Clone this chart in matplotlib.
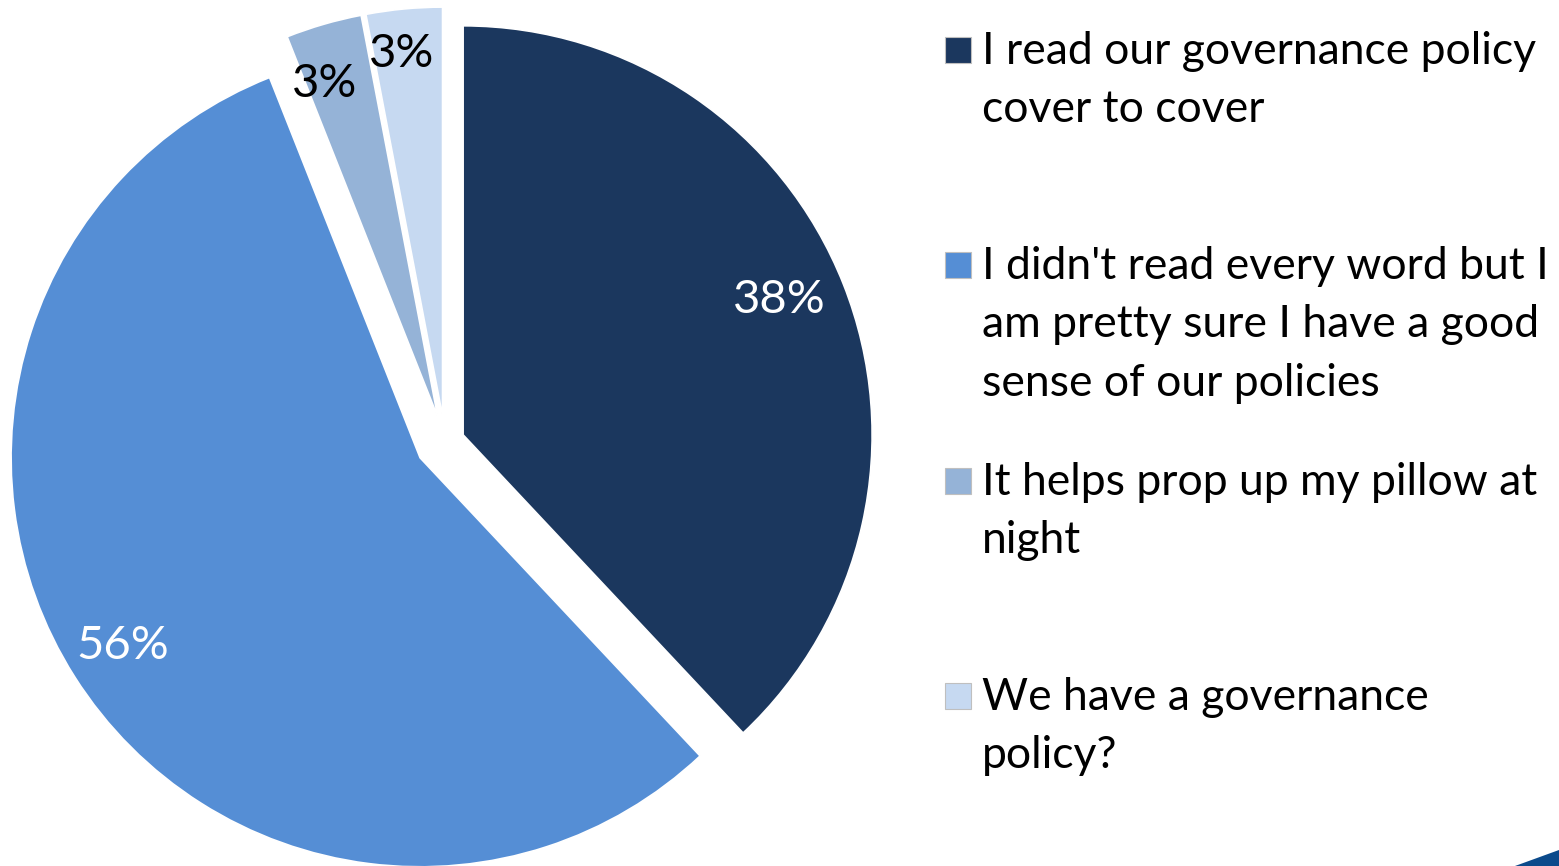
import matplotlib
matplotlib.use("Agg")
import matplotlib.pyplot as plt
from matplotlib.patches import Rectangle, Polygon
import numpy as np

# Survey responses
categories = [
    "I read our governance policy\ncover to cover",
    "I didn't read every word but I\nam pretty sure I have a good\nsense of our policies",
    "It helps prop up my pillow at\nnight",
    "We have a governance\npolicy?",
]
shares = [38, 56, 3, 3]
colors = ["#1B375E", "#558ED5", "#95B3D7", "#C6D9F1"]
label_colors = ["white", "white", "black", "black"]

W, H = 1559, 866
FONT = "Lato"

fig = plt.figure(figsize=(W / 100, H / 100), dpi=100)
ax = fig.add_axes([0, 0, 1, 1])
ax.set_xlim(0, W)
ax.set_ylim(0, H)
ax.set_aspect("equal")
ax.axis("off")

center = (445, H - 442)
radius = 409
# explode offsets are in data units (pixels here)
explode = [19.5, 29.5, 26, 26]
label_dist = [0.84, 0.86, 0.86, 0.89]
label_turn = [1.5, 0.0, 2.5, 1.0]   # degrees, nudges labels counter-clockwise

wedges, _, autotexts = ax.pie(
    shares, colors=colors, startangle=90, counterclock=False,
    explode=explode, center=center, radius=radius,
    autopct="%.0f%%", pctdistance=0.85,
    wedgeprops=dict(edgecolor="white", linewidth=1.2),
    textprops=dict(fontsize=34, family=FONT),
)
ax.set_xlim(0, W)
ax.set_ylim(0, H)

for w, t, c, d, ex, turn in zip(wedges, autotexts, label_colors, label_dist,
                                explode, label_turn):
    mid = np.deg2rad((w.theta1 + w.theta2) / 2)
    cx = center[0] + ex * np.cos(mid)
    cy = center[1] + ex * np.sin(mid)
    ang = mid + np.deg2rad(turn)
    t.set_position((cx + d * radius * np.cos(ang), cy + d * radius * np.sin(ang)))
    t.set_color(c)

# Legend drawn as swatches with wrapped text
first_line_y = [50, 265, 481, 696]
for cat, col, y in zip(categories, colors, first_line_y):
    ax.add_patch(Rectangle((945, H - y - 12.5), 26, 26, facecolor=col,
                           edgecolor="#BFBFBF", linewidth=0.8))
    ax.text(982, H - y + 19, cat, fontsize=32, family=FONT, color="black",
            ha="left", va="top", linespacing=1.53)

# Corner accent
ax.add_patch(Polygon([(1515, 0), (1559, 0), (1559, 16)], closed=True,
                     facecolor="#0B4A8B", edgecolor="none"))

fig.savefig("out.png", dpi=100, facecolor="white")
